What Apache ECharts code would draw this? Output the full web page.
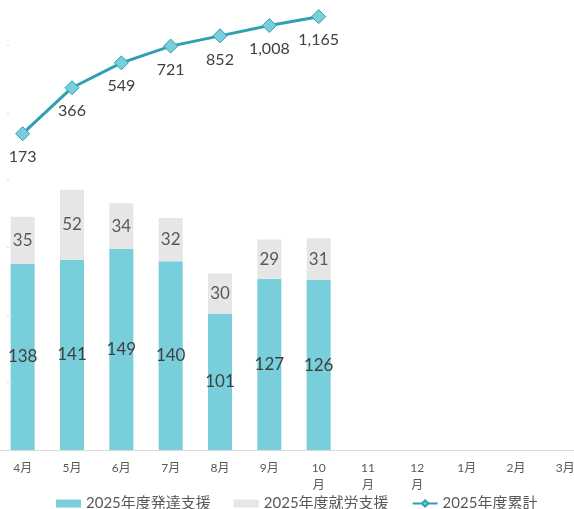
<!DOCTYPE html>
<html>
<head>
<meta charset="utf-8">
<script src="https://cdn.jsdelivr.net/npm/echarts@6/dist/echarts.min.js"></script>
<style>
html,body{margin:0;padding:0;background:#fff;overflow:hidden;width:574px;height:509px;position:relative;}
#c{position:absolute;left:-10px;top:-30px;width:610px;height:539px;}
</style>
</head>
<body>
<div id="c"></div>
<script>
const categories = ['4月','5月','6月','7月','8月','9月','10月','11月','12月','1月','2月','3月'];
const hattatsu = [138, 141, 149, 140, 101, 127, 126, null, null, null, null, null];
const shuro = [35, 52, 34, 32, 30, 29, 31, null, null, null, null, null];
const ruikei = [173, 366, 549, 721, 852, 1008, 1165, null, null, null, null, null];
const seriesNames = ['2025年度発達支援', '2025年度就労支援', '2025年度累計'];

const FONT = "Lato, 'Noto Sans CJK JP', sans-serif";
const chart = echarts.init(document.getElementById('c'), null, {renderer: 'canvas'});
chart.setOption({
  animation: false,
  backgroundColor: '#ffffff',
  textStyle: {fontFamily: FONT},
  grid: {left: 8, width: 592, top: 8, bottom: 59, containLabel: false},
  legend: {
    left: 61, top: 521,
    itemWidth: 25, itemHeight: 8, itemGap: 23,
    textStyle: {fontFamily: FONT, fontSize: 15, color: '#595959'},
    data: [
      {name: seriesNames[0], icon: 'rect'},
      {name: seriesNames[1], icon: 'rect'},
      {name: seriesNames[2]}
    ]
  },
  xAxis: {
    type: 'category',
    data: categories,
    axisLine: {show: true, lineStyle: {color: '#D9D9D9', width: 1}},
    axisTick: {show: false},
    axisLabel: {
      interval: 0, margin: 10, color: '#595959', fontFamily: FONT, fontSize: 12, lineHeight: 17,
      formatter: v => v.length > 2 ? v.slice(0, v.length - 1) + '\n' + v.slice(-1) : v
    }
  },
  yAxis: [
    {
      type: 'value', min: 0, max: 350, interval: 50, offset: -11,
      axisLine: {show: false},
      axisTick: {show: true, inside: false, length: 2, lineStyle: {color: '#D9D9D9'}},
      axisLabel: {show: false},
      splitLine: {show: false}
    },
    {
      type: 'log', logBase: 3, min: 1, max: 2187, position: 'right',
      axisLine: {show: false}, axisTick: {show: false}, axisLabel: {show: false}, splitLine: {show: false}
    }
  ],
  series: [
    {
      name: seriesNames[0], type: 'bar', stack: 'a', barWidth: 24, yAxisIndex: 0,
      itemStyle: {color: '#78CFDB'},
      label: {show: true, position: 'inside', color: '#404040', fontSize: 17, fontFamily: FONT}
    },
    {
      name: seriesNames[1], type: 'bar', stack: 'a', barWidth: 24, yAxisIndex: 0,
      itemStyle: {color: '#E6E6E6'},
      label: {show: true, position: 'inside', color: '#595959', fontSize: 17, fontFamily: FONT}
    },
    {
      name: seriesNames[2], type: 'line', yAxisIndex: 1,
      symbol: 'diamond', symbolSize: 14,
      lineStyle: {color: '#2FA0B2', width: 3},
      itemStyle: {color: '#78CFDB', borderColor: '#2FA0B2', borderWidth: 1},
      label: {
        show: true, position: 'bottom', distance: 8, color: '#404040', fontSize: 16, fontFamily: FONT,
        formatter: p => p.value == null ? '' : Number(p.value).toLocaleString('en-US')
      }
    }
  ]
});
chart.setOption({series: [{data: hattatsu}, {data: shuro}, {data: ruikei}]});
</script>
</body>
</html>
